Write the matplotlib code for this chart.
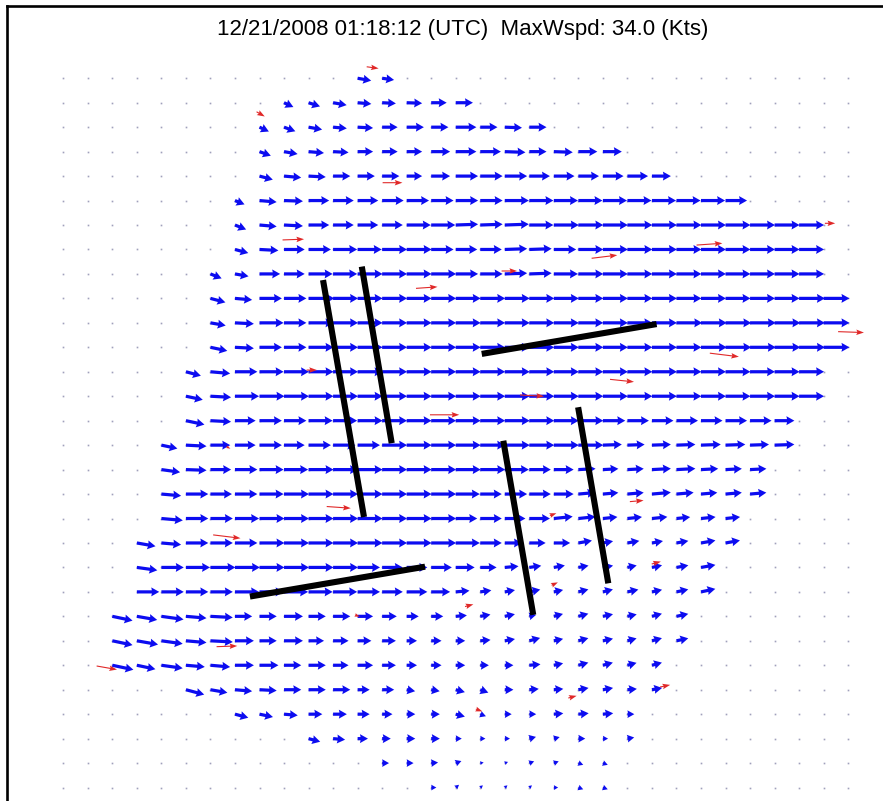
import numpy as np
import matplotlib
matplotlib.use("Agg")
import matplotlib.pyplot as plt
from matplotlib.lines import Line2D

TITLE = "12/21/2008 01:18:12 (UTC)  MaxWspd: 34.0 (Kts)"

N_COLS = 33
N_ROWS = 30

# first grid column with a vector, per row (row 0 = top)
ROW_START = [12, 9, 8, 8, 8, 7, 7, 7, 6, 6,
             6, 6, 5, 5, 5, 4, 4, 4, 4, 3,
             3, 3, 2, 2, 2, 5, 7, 10, 13, 15]

# wind speed (kts) of each vector along the row
ROW_SPD = [
    [16, 14],
    [12, 14, 16, 16, 16, 18, 18, 20],
    [12, 14, 16, 16, 18, 18, 20, 20, 24, 20, 20, 20],
    [14, 16, 18, 18, 18, 18, 18, 22, 24, 24, 24, 20, 22, 22, 22],
    [16, 20, 20, 20, 20, 20, 18, 22, 26, 26, 26, 24, 24, 24, 24, 24, 22],
    [12, 20, 22, 24, 24, 24, 25, 26, 26, 26, 26, 28, 28, 28, 28, 28, 28, 28, 28, 28, 25],
    [14, 20, 22, 24, 24, 24, 24, 28, 28, 26, 26, 28, 28, 29, 29, 29, 29, 29, 29, 29, 29, 29, 29, 29],
    [16, 22, 24, 26, 28, 28, 29, 29, 26, 25, 25, 26, 26, 26, 29, 29, 29, 29, 29, 29, 29, 29, 29, 29],
    [14, 16, 24, 24, 28, 28, 29, 29, 29, 29, 26, 26, 26, 26, 28, 29, 29, 29, 29, 29, 29, 29, 29, 29, 29],
    [18, 20, 26, 26, 30, 29, 29, 29, 29, 29, 29, 29, 29, 29, 29, 29, 29, 29, 29, 29, 29, 29, 29, 29, 30, 30],
    [18, 22, 28, 26, 29, 29, 29, 29, 29, 29, 29, 29, 29, 29, 29, 29, 29, 29, 29, 30, 30, 30, 30, 30, 30, 30],
    [20, 22, 26, 26, 29, 29, 29, 29, 29, 29, 29, 29, 29, 29, 29, 29, 29, 29, 29, 29, 30, 30, 30, 30, 30, 30],
    [18, 23, 26, 28, 29, 29, 29, 29, 29, 29, 29, 29, 29, 29, 29, 29, 29, 29, 29, 29, 29, 29, 29, 29, 29, 29],
    [20, 24, 28, 29, 29, 29, 29, 29, 29, 29, 29, 29, 29, 29, 29, 29, 29, 29, 29, 29, 29, 29, 29, 29, 29, 29],
    [22, 24, 24, 26, 26, 28, 28, 29, 29, 29, 29, 29, 29, 29, 29, 29, 29, 26, 25, 25, 25, 25, 25, 25, 23],
    [19, 24, 23, 24, 26, 24, 26, 26, 26, 29, 29, 29, 29, 29, 29, 29, 29, 29, 22, 20, 22, 22, 23, 23, 22, 23],
    [22, 24, 24, 26, 28, 28, 29, 29, 29, 29, 29, 29, 29, 29, 28, 25, 23, 20, 18, 19, 22, 22, 20, 19, 19],
    [23, 26, 25, 26, 28, 29, 29, 29, 29, 29, 29, 29, 28, 25, 26, 25, 23, 20, 18, 19, 22, 20, 19, 19, 19],
    [25, 26, 26, 28, 29, 29, 29, 29, 29, 29, 29, 29, 25, 25, 24, 24, 22, 20, 17, 17, 18, 16, 17, 17],
    [22, 23, 26, 26, 26, 29, 29, 29, 29, 29, 29, 29, 29, 28, 25, 20, 19, 19, 16, 12, 14, 13, 14, 17, 17],
    [24, 26, 28, 29, 29, 29, 29, 29, 29, 26, 24, 24, 24, 22, 19, 16, 14, 13, 12, 12, 11, 12, 14, 17],
    [26, 26, 26, 26, 28, 28, 28, 28, 28, 26, 24, 24, 22, 16, 13, 12, 13, 11, 12, 12, 13, 12, 14, 17],
    [24, 24, 26, 24, 26, 20, 20, 22, 20, 20, 18, 17, 14, 14, 13, 12, 12, 8, 11, 12, 12, 11, 12, 14],
    [24, 25, 25, 24, 26, 22, 20, 22, 18, 18, 16, 16, 12, 12, 11, 12, 12, 13, 11, 12, 12, 11, 12, 14],
    [25, 22, 25, 22, 23, 22, 22, 20, 20, 18, 18, 16, 12, 12, 11, 10, 10, 13, 11, 12, 12, 11, 12],
    [22, 20, 20, 20, 20, 20, 20, 14, 14, 10, 10, 11, 10, 10, 11, 11, 12, 12, 11, 12],
    [16, 16, 16, 16, 16, 14, 12, 10, 10, 11, 7, 8, 8, 11, 12, 12, 8],
    [14, 14, 12, 10, 10, 10, 7, 6, 6, 8, 7, 8, 6, 8],
    [8, 8, 8, 7, 4, 4, 6, 6, 6, 6],
    [6, 5, 4, 4, 4, 5, 6, 6],
]

# direction (deg, 0 = east, positive = north) of each vector
ROW_DIR = [
    [-10, -8],
    [-25, -18, -10, -5, -3, -2, 0, 0],
    [-25, -20, -10, -5, -3, 0, 0, 0, 0, 0, -2, 0],
    [-20, -10, -5, -3, 0, 0, 0, 0, 0, 0, -2, 0, -2, 0, 0],
    [-15, -5, -3, 0, 0, 0, 0, 0, 0, 0, 0, 0, 0, 0, 0, 0, 0],
    [-22, -5, -2, 0, 0, 0, 0, 0, 0, 0, 0, 0, 0, 0, 0, 0, 0, 0, 0, 0, 0],
    [-22, -5, -3, 0, 0, 0, 0, 0, 0, 2, 2, 2, 0, 0, 0, 0, 0, 0, 0, 0, 0, 0, 0, 0],
    [-15, -3, 0, 0, 0, 0, 0, 0, 0, 0, 0, 2, 2, 0, 0, 0, 0, 0, 0, 0, 0, 0, 0, 0],
    [-22, -10, 0, 0, 0, 0, 0, 0, 0, 0, 0, 0, 2, 2, 0, 0, 0, 0, 0, 0, 0, 0, 0, 0, 0],
    [-15, -5, 0, 0, 0, 0, 0, 0, 0, 0, 0, 0, 0, 0, 0, 0, 0, 0, 0, 0, 0, 0, 0, 0, 0, 0],
    [-10, -3, 0, 0, 0, 0, 0, 0, 0, 0, 0, 0, 0, 0, 0, 0, 0, 0, 0, 0, 0, 0, 0, 0, 0, 0],
    [-12, -3, 0, 0, 0, 0, 0, 0, 0, 0, 0, 0, 0, 0, 0, 0, 0, 0, 0, 0, 0, 0, 0, 0, 0, 0],
    [-15, -5, 0, 0, 0, 0, 0, 0, 0, 0, 0, 0, 0, 0, 0, 0, 0, 0, 0, 0, 0, 0, 0, 0, 0, 0],
    [-12, -3, 0, 0, 0, 0, 0, 0, 0, 0, 0, 0, 0, 0, 0, 0, 0, 0, 0, 0, 0, 0, 0, 0, 0, 0],
    [-12, -3, 0, 0, 0, 0, 0, 0, 0, 0, 0, 0, 0, 0, 0, 0, 0, 0, 0, 0, 0, 0, 0, 0, 0],
    [-12, -3, 0, 0, 0, 0, 0, 0, 0, 0, 0, 0, 0, 0, 0, 0, 0, 0, 2, 2, 2, 2, 2, 2, 2, 2],
    [-8, -2, 0, 0, 0, 0, 0, 0, 0, 0, 0, 0, 0, 0, 0, 0, 0, 3, 3, 3, 3, 3, 3, 3, 3],
    [-5, 0, 0, 0, 0, 0, 0, 0, 0, 0, 0, 0, 0, 0, 0, 0, 0, 5, 5, 5, 5, 5, 5, 5, 5],
    [-5, 0, 0, 0, 0, 0, 0, 0, 0, 0, 0, 0, 0, 0, 0, 0, 6, 6, 6, 6, 6, 6, 6, 6],
    [-10, -5, 0, 0, 0, 0, 0, 0, 0, 0, 0, 0, 0, 0, 0, 0, 0, 0, 10, 10, 10, 10, 10, 10, 10],
    [-8, 0, 0, 0, 0, 0, 0, 0, 0, 0, 0, 0, 0, 0, 0, 5, 8, 10, 10, 10, 12, 12, 10, 10],
    [0, 0, 0, 0, 0, 0, 0, 0, 0, 0, 0, 0, 0, 5, 8, 10, 12, 12, 14, 14, 12, 12, 12, 12],
    [-12, -10, -8, -5, -3, 0, 0, 0, 0, 0, 0, 0, 0, 0, 5, 10, 12, 12, 15, 15, 12, 12, 15, 12],
    [-12, -10, -8, -5, -3, 0, 0, 0, 0, 0, 0, 0, 0, 0, 0, 5, 10, 15, 12, 15, 12, 15, 15, 12],
    [-12, -12, -8, -5, -5, 0, 0, 0, 0, 0, 0, 0, 0, 0, 0, 0, 0, 5, 12, 15, 15, 15, 15],
    [-15, -10, -5, -3, 0, 0, 0, 0, 0, -10, -10, -15, -20, 0, 5, 5, 10, 10, 5, 10],
    [-15, -12, -5, 0, 0, 0, 0, 0, 0, -15, -20, 0, 0, 5, 5, 5, 0],
    [-15, -5, 0, 0, 0, 0, 0, 0, 0, 15, 15, 0, 0, 10],
    [0, 0, 5, 20, 10, 20, 20, 20, -20, -20],
    [0, 40, 40, 40, 40, 0, -20, -20],
]

# second (red) vector set: grid x, grid row, speed (kts), direction (deg)
RED_X = [12.37, 7.88, 13.02, 8.94, 14.38, 31.05, 25.82, 21.54, 17.87, 31.59,
         26.36, 22.29, 18.62, 14.95, 10.74, 6.11, 6.66, 23.10, 19.84, 23.99,
         19.91, 6.25, 1.36, 11.89, 16.38, 20.59, 24.33, 16.82, 9.92]
RED_ROW = [-0.47, 1.37, 4.27, 6.61, 8.59, 5.93, 6.82, 7.36, 7.88, 10.36,
           11.24, 12.31, 12.95, 13.76, 17.51, 18.67, 15.06, 17.31, 17.88, 19.86,
           20.73, 23.24, 24.03, 21.94, 21.60, 25.34, 24.89, 25.79, 11.93]
RED_SPD = [14, 11, 23, 25, 25, 12, 30, 30, 18, 30,
           34, 28, 28, 34, 28, 32, 5, 16, 8, 11,
           8, 24, 24, 6, 10, 10, 12, 8, 12]
RED_DIR = [-8, -30, 0, 2, 4, 0, 4, 7, 0, -2,
           -7, -6, -3, 0, -4, -7, -30, 5, 20, 15,
           25, 2, -10, -20, 15, 15, 12, -20, 0]

# thick black segments: (x0, row0, x1, row1) in grid units
SEG_X0 = [10.59, 12.17, 17.06, 7.61, 17.94, 20.99]
SEG_R0 = [8.25, 7.70, 11.27, 21.19, 14.82, 13.45]
SEG_X1 = [12.26, 13.39, 24.19, 14.75, 19.16, 22.22]
SEG_R1 = [17.94, 14.92, 10.05, 19.97, 21.94, 20.65]

KTS_PER_CELL = 28.5

xs, ys, us, vs = [], [], [], []
for r, (c0, spd, dd) in enumerate(zip(ROW_START, ROW_SPD, ROW_DIR)):
    for k, (s, d) in enumerate(zip(spd, dd)):
        a = np.deg2rad(d)
        xs.append(c0 + k)
        ys.append(-r)
        us.append(s * np.cos(a))
        vs.append(s * np.sin(a))

fig = plt.figure(figsize=(8.83, 8.01), dpi=100)
ax = fig.add_axes([0, 0, 1, 1])
ax.set_xlim(-2.58, 33.42)
ax.set_ylim(-29.55, 3.20)
ax.axis("off")

gx, gy = np.meshgrid(np.arange(N_COLS), -np.arange(N_ROWS))
ax.plot(gx.ravel(), gy.ravel(), ls="none", marker="s", ms=1.2, mew=0,
        color="#a0a0bc", zorder=1)

ax.quiver(xs, ys, us, vs, angles="xy", scale_units="xy", scale=KTS_PER_CELL,
          units="dots", width=3.2, headwidth=2.8, headlength=2.5,
          headaxislength=2.3, color="#0c0cf0", zorder=2)

ra = np.deg2rad(RED_DIR)
ax.quiver(RED_X, -np.array(RED_ROW), np.array(RED_SPD) * np.cos(ra),
          np.array(RED_SPD) * np.sin(ra), angles="xy", scale_units="xy",
          scale=KTS_PER_CELL, units="dots", width=1.1, headwidth=5,
          headlength=7, headaxislength=6, color="#e02828", zorder=4)

for x0, r0, x1, r1 in zip(SEG_X0, SEG_R0, SEG_X1, SEG_R1):
    ax.plot([x0, x1], [-r0, -r1], color="black", lw=4.4,
            solid_capstyle="butt", zorder=3)

# frame (only top and left edges are visible)
fig.add_artist(Line2D([0.0079, 0.0079], [0, 0.9931], color="black", lw=1.9,
                      transform=fig.transFigure))
fig.add_artist(Line2D([0.0079, 1], [0.9931, 0.9931], color="black", lw=1.9,
                      transform=fig.transFigure))

fig.text(462.5 / 883, 1 - 29 / 801, TITLE, ha="center", va="center",
         fontsize=16, family="Liberation Sans")

fig.savefig("out.png", dpi=100, facecolor="white")
